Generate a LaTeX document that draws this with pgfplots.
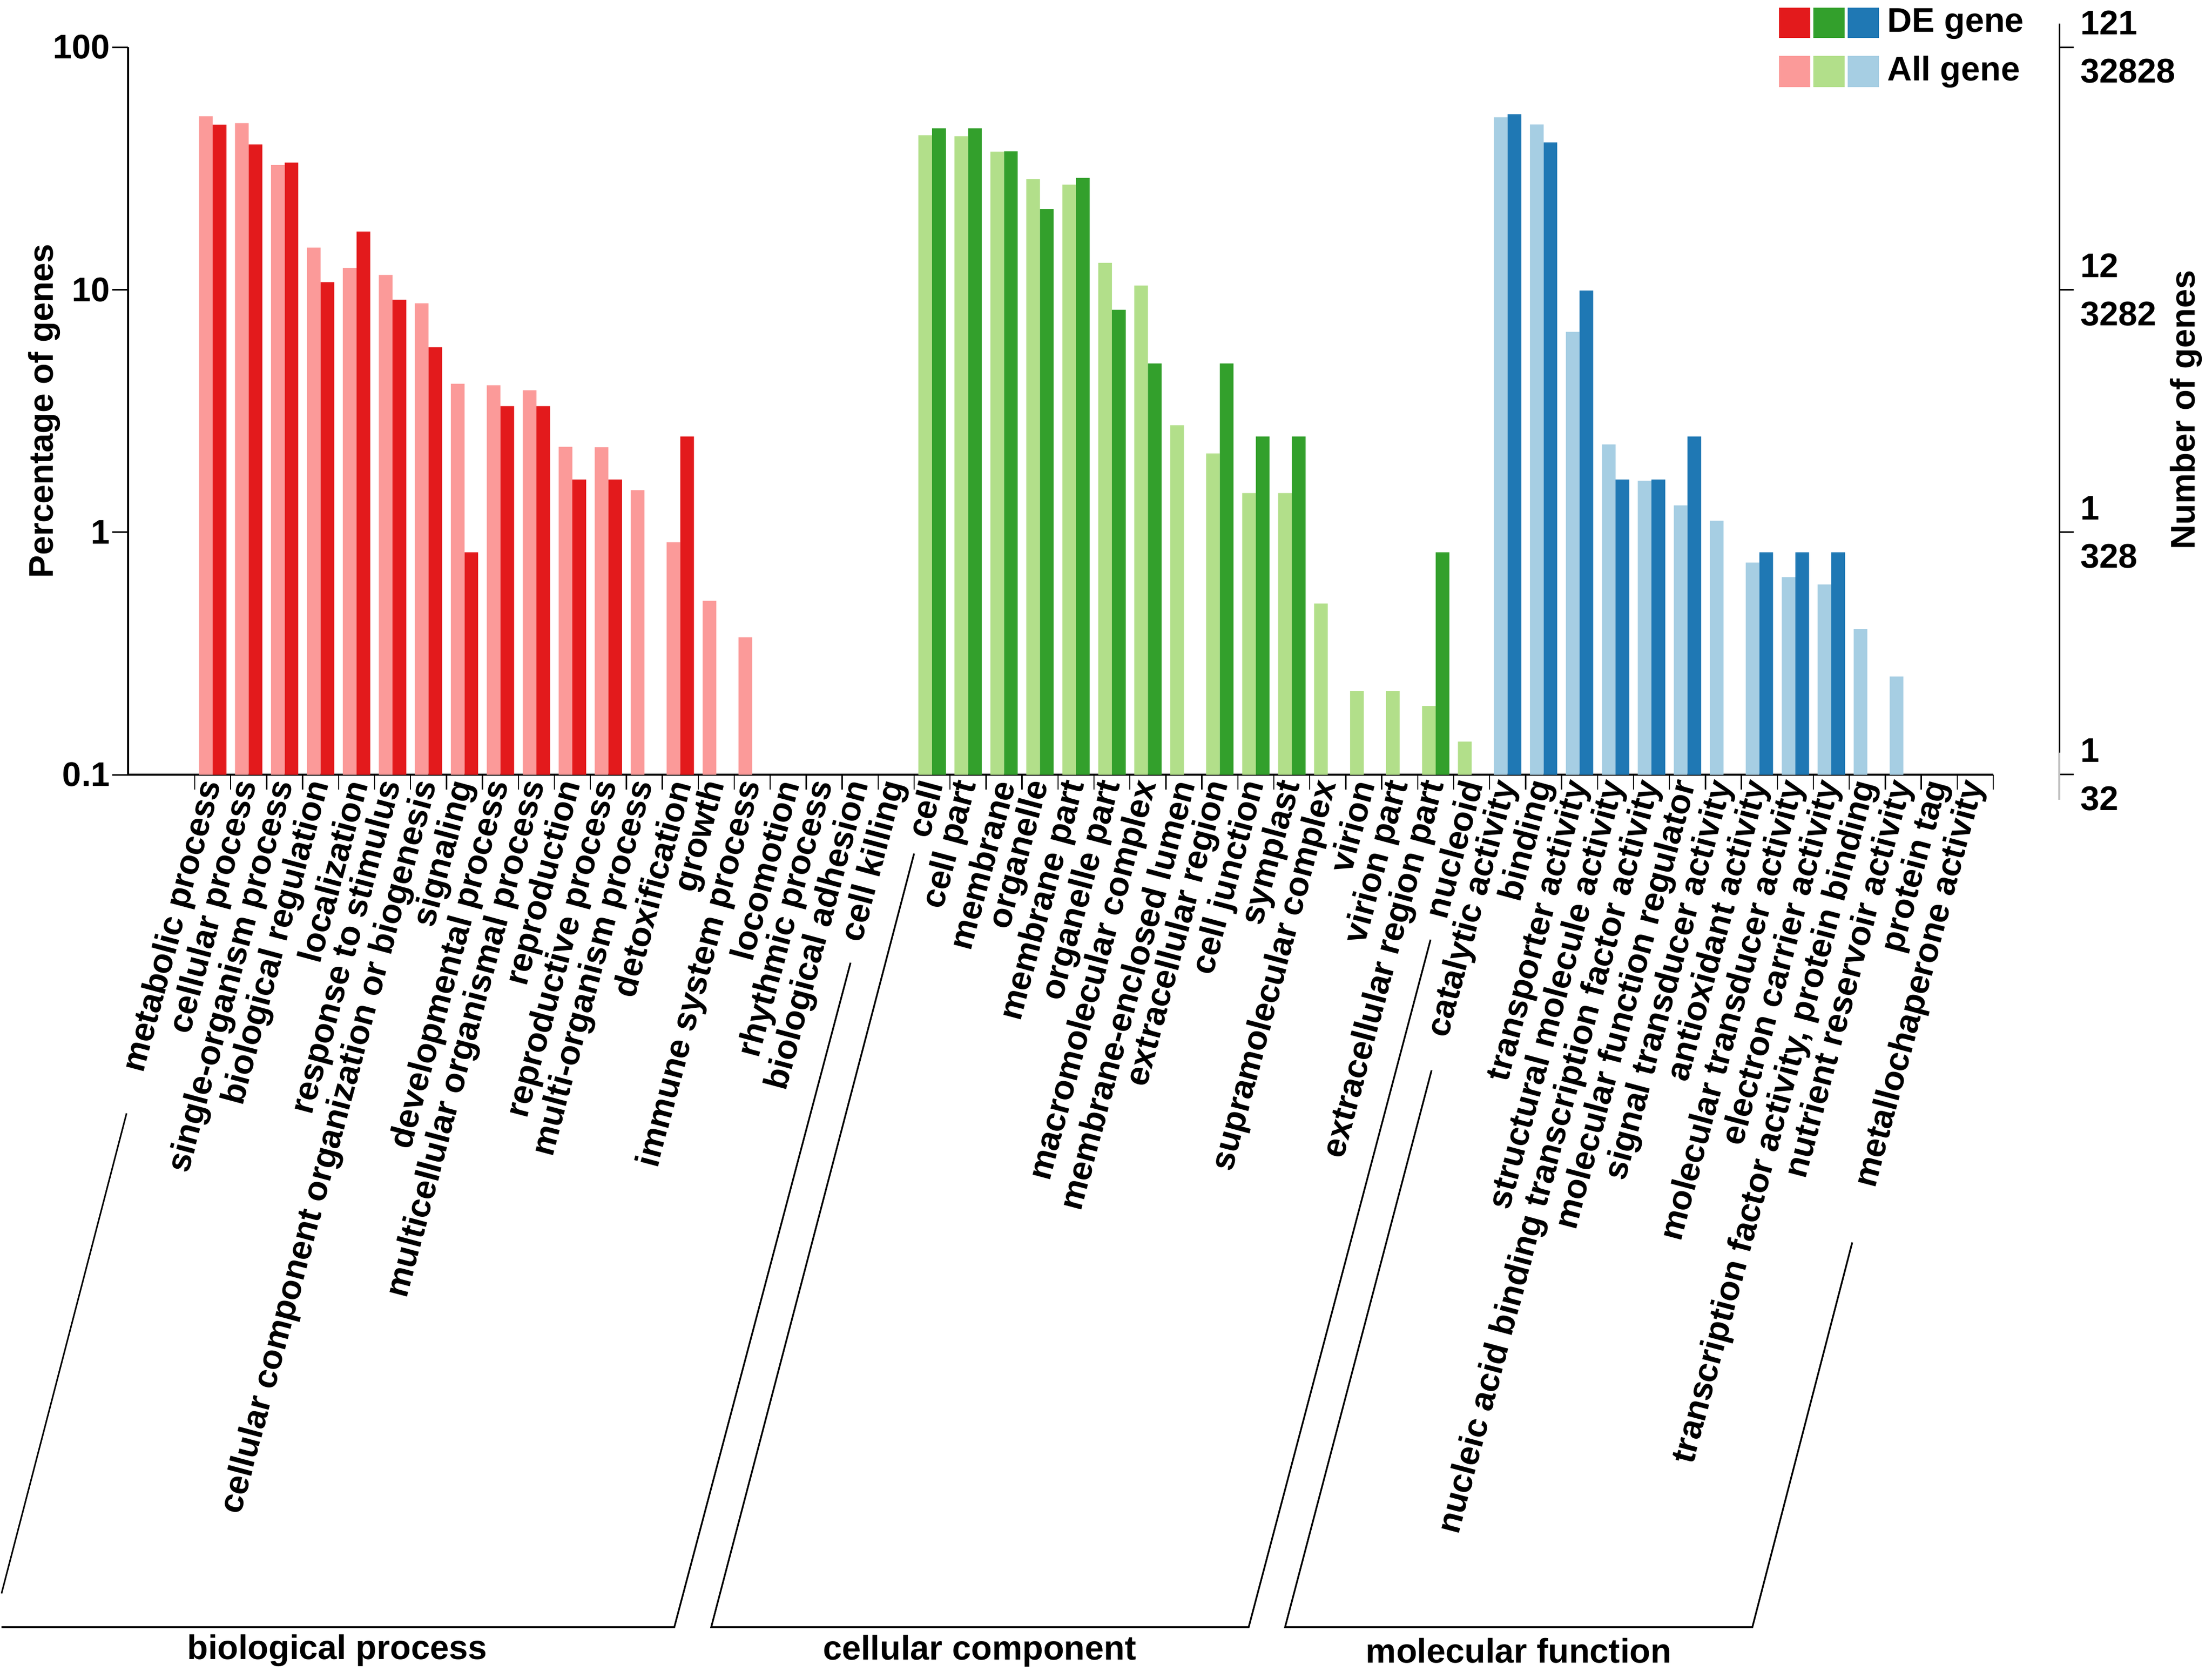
\documentclass[border=0pt]{standalone}
\usepackage{fontspec}
\setmainfont{Liberation Sans}
\usepackage{pgfplots}
\pgfplotsset{compat=1.18}
\definecolor{redD}{HTML}{E31A1C}
\definecolor{redL}{HTML}{FB9A99}
\definecolor{greenD}{HTML}{33A02C}
\definecolor{greenL}{HTML}{B2DF8A}
\definecolor{blueD}{HTML}{1F78B4}
\definecolor{blueL}{HTML}{A6CEE3}
\newcommand{\lf}{\bfseries\fontsize{10}{12}\selectfont}
\begin{document}
\begin{tikzpicture}
\useasboundingbox (0,0) rectangle (647.55pt,491.1pt);
\begin{axis}[
  at={(37.5pt,264.3pt)}, anchor=south west,
  scale only axis, width=546pt, height=213pt,
  xmin=-2.352, xmax=49.5,
  ymode=log, ymin=0.1, ymax=100, log origin y=infty,
  axis lines=left, axis line style={-, line width=0.6pt},
  tick align=outside,
  ytick={0.1,1,10,100}, yticklabels={0.1,1,10,100},
  yminorticks=false,
  major tick length=4.65pt,
  tick style={black, line width=0.45pt},
  yticklabel style={font=\lf, inner sep=0pt, xshift=-0.45pt},
  xtick={0,...,49},
  major x tick style={draw=none},
  minor xtick={-0.5,0.5,...,49.5},
  minor tick length=4.4pt,
  minor x tick style={black, line width=0.35pt},
  xticklabel style={font=\lf, inner sep=0pt, anchor=east, yshift=2.85pt, rotate=75},
  xticklabels={metabolic process, cellular process, single-organism process, biological regulation, localization, response to stimulus, cellular component organization or biogenesis, signaling, developmental process, multicellular organismal process, reproduction, reproductive process, multi-organism process, detoxification, growth, immune system process, locomotion, rhythmic process, biological adhesion, cell killing, cell, cell part, membrane, organelle, membrane part, organelle part, macromolecular complex, membrane-enclosed lumen, extracellular region, cell junction, symplast, supramolecular complex, virion, virion part, extracellular region part, nucleoid, catalytic activity, binding, transporter activity, structural molecule activity, nucleic acid binding transcription factor activity, molecular function regulator, signal transducer activity, antioxidant activity, molecular transducer activity, electron carrier activity, {transcription factor activity, protein binding}, nutrient reservoir activity, protein tag, metallochaperone activity},
  clip=false,
]
% biological process - All gene
\addplot[ybar, bar width=4pt, bar shift=-2pt, fill=redL, draw=none] coordinates {
(0,51.9) (1,48.6) (2,32.7) (3,14.9) (4,12.3) (5,11.5) (6,8.78) (7,4.09) (8,4.03) (9,3.85)
(10,2.25) (11,2.24) (12,1.49) (13,0.909) (14,0.521) (15,0.368)};
% biological process - DE gene
\addplot[ybar, bar width=4pt, bar shift=2pt, fill=redD, draw=none] coordinates {
(0,47.9) (1,39.7) (2,33.4) (3,10.74) (4,17.36) (5,9.09) (6,5.79) (7,0.826) (8,3.31) (9,3.31)
(10,1.65) (11,1.65) (13,2.48)};
% cellular component - All gene
\addplot[ybar, bar width=4pt, bar shift=-2pt, fill=greenL, draw=none] coordinates {
(20,43.3) (21,42.9) (22,37.1) (23,28.6) (24,27.1) (25,12.9) (26,10.4) (27,2.76) (28,2.11) (29,1.45)
(30,1.45) (31,0.508) (32,0.221) (33,0.221) (34,0.192) (35,0.137)};
% cellular component - DE gene
\addplot[ybar, bar width=4pt, bar shift=2pt, fill=greenD, draw=none] coordinates {
(20,46.3) (21,46.3) (22,37.2) (23,21.5) (24,28.9) (25,8.26) (26,4.96) (28,4.96) (29,2.48) (30,2.48)
(34,0.826)};
% molecular function - All gene
\addplot[ybar, bar width=4pt, bar shift=-2pt, fill=blueL, draw=none] coordinates {
(36,51.3) (37,48.0) (38,6.70) (39,2.30) (40,1.63) (41,1.29) (42,1.115) (43,0.75) (44,0.653) (45,0.609)
(46,0.398) (47,0.254)};
% molecular function - DE gene
\addplot[ybar, bar width=4pt, bar shift=2pt, fill=blueD, draw=none] coordinates {
(36,52.9) (37,40.5) (38,9.92) (39,1.65) (40,1.65) (41,2.48) (43,0.826) (44,0.826) (45,0.826)};
\end{axis}
% right axis: number of genes
\begin{axis}[
  at={(602.85pt,256.95pt)}, anchor=south east,
  scale only axis, width=20pt, height=227.25pt,
  xmin=0, xmax=1, ymode=log, ymin=0.07876, ymax=125.1,
  axis x line=none, axis y line=right, axis line style={-, line width=0.45pt},
  tick align=outside, major tick length=4.2pt, yminorticks=false,
  tick style={black, line width=0.45pt},
  ytick={0.1,1,10,100},
  yticklabels={{1\\32},{1\\328},{12\\3282},{121\\32828}},
  yticklabel style={font=\bfseries\fontsize{10}{14.1}\selectfont, align=left, anchor=west, inner sep=0pt, xshift=1.8pt},
]
\end{axis}
\begin{scope}[x=0.15pt, y=-0.15pt, shift={(0pt,491.1pt)}]
  \draw[black!25, line width=0.5pt] (4019,1469) -- (4019,1561);
  \draw[line width=0.45pt] (247,2173) -- (3,3110);
  \draw[line width=0.5pt] (3,3176) -- (1316,3176) -- (1660,1879);
  \draw[line width=0.5pt] (1784,1666) -- (1388,3176) -- (2437,3176) -- (2792,1834);
  \draw[line width=0.5pt] (2794,2089) -- (2508,3176) -- (3420,3176) -- (3615,2425);
  \node[font=\lf] at (658,3222) {biological process};
  \node[font=\lf] at (1912,3222) {cellular component};
  \node[font=\lf] at (2964,3222) {molecular function};
  \node[font=\lf, rotate=90] at (86,802) {Percentage of genes};
  \node[font=\lf, rotate=90] at (4267,800) {Number of genes};
  \fill[redD] (3472,15) rectangle (3533,74);
  \fill[greenD] (3539,15) rectangle (3600,74);
  \fill[blueD] (3606,15) rectangle (3667,74);
  \fill[redL] (3472,109) rectangle (3533,170);
  \fill[greenL] (3539,109) rectangle (3600,170);
  \fill[blueL] (3606,109) rectangle (3667,170);
  \node[font=\lf, anchor=base west, inner sep=0pt] at (3682,63) {DE gene};
  \node[font=\lf, anchor=base west, inner sep=0pt] at (3682,158) {All gene};
\end{scope}
\end{tikzpicture}
\end{document}
